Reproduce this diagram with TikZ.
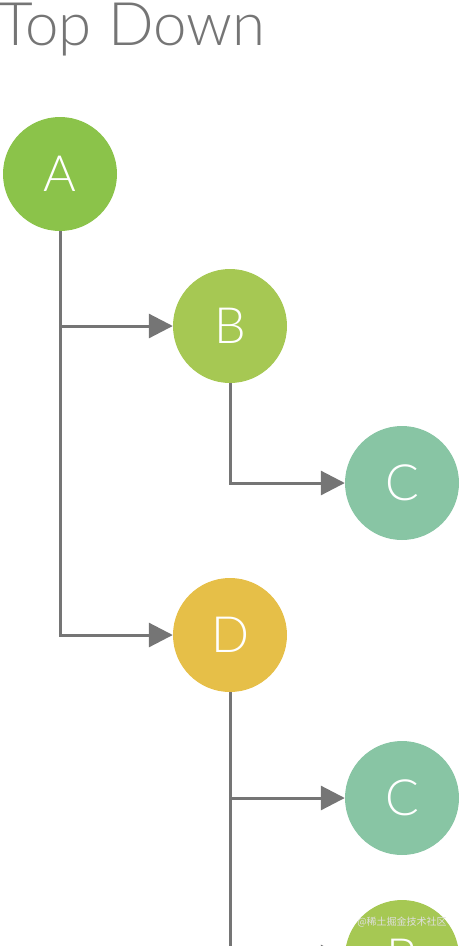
\documentclass[tikz,border=0pt]{standalone}
\usepackage{fontspec}
\setmainfont{Lato Light}
\newfontfamily\cjk{Noto Sans CJK SC}
\usepackage{xcolor}
\usetikzlibrary{arrows.meta}
\definecolor{linegray}{HTML}{757575}
\definecolor{greenA}{HTML}{8BC34A}
\definecolor{greenB}{HTML}{A6C853}
\definecolor{tealC}{HTML}{88C5A4}
\definecolor{yellowD}{HTML}{E6BF48}
\tikzset{
  call/.style={circle,minimum size=114pt,inner sep=0pt,text=white,font=\fontsize{50}{50}\selectfont},
  link/.style={draw=linegray,line width=3pt}
}

\begin{document}
\begin{tikzpicture}[x=1pt,y=-1pt,>={Triangle[length=24pt,width=24pt]}]
\useasboundingbox (0,0) rectangle (460,946);
\node[anchor=base west,inner sep=0pt,text=linegray,font=\fontsize{60}{60}\selectfont](title) at (-2,45){Top Down};
\node[call,fill=greenA](A) at (60,174){A};
\node[call,fill=greenB](B) at (230,326){B};
\node[call,fill=tealC](C) at (402,483){C};
\node[call,fill=yellowD](D) at (230,635){D};
\node[call,fill=tealC](C2) at (402,798){C};
\node[call,fill=greenB](B2) at (402,957){B};
\coordinate(bottom) at (230,946);
\draw[link,->](A)|-(D);
\draw[link,->](A|-B)--(B);
\draw[link,->](B)|-(C);
\draw[link](D)--(bottom);
\draw[link,->](D|-C2)--(C2);
\draw[link,->](D|-B2)--(B2);
\node[text=white!75!gray,font=\cjk\fontsize{10}{10}\selectfont](mark) at (402,922){@稀土掘金技术社区};
\end{tikzpicture}
\end{document}
